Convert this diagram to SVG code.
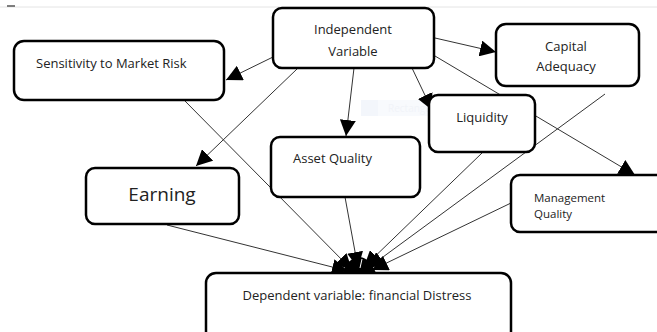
<svg xmlns="http://www.w3.org/2000/svg" width="657" height="332" viewBox="0 0 657 332">
<style>
.box{fill:#fff;stroke:#000;stroke-width:2.5}
.t{font-family:"Open Sans","Noto Sans","Liberation Sans",sans-serif;fill:#222;font-size:13px}
.c{stroke:#333;stroke-width:1;fill:none}
.a{marker-end:url(#ah)}
</style>
<defs>
<marker id="ah" viewBox="0 0 10 10" refX="10" refY="5" markerWidth="16" markerHeight="16" markerUnits="userSpaceOnUse" orient="auto">
<path d="M0,0 L10,5 L0,10 z" fill="#000"/>
</marker>
</defs>
<rect width="657" height="332" fill="#fff"/>
<line x1="0" y1="7" x2="657" y2="7" stroke="#e4e4e4" stroke-width="1"/>
<line x1="7" y1="6" x2="15" y2="6" stroke="#555" stroke-width="1.5"/>
<g id="snip" opacity="0.4">
<rect x="361" y="100" width="95" height="16" fill="#eef3fb"/>
<rect x="361" y="100" width="17" height="16" fill="#e2eaf7"/>
<text x="388" y="112" class="t" style="fill:#dde4f0;font-size:10px">Rectangular Snip</text>
</g>
<g id="connectors">
<line class="c a" x1="273" y1="57" x2="226" y2="80"/>
<line class="c a" x1="297" y1="69" x2="196" y2="166"/>
<line class="c a" x1="354" y1="68" x2="346" y2="136"/>
<line class="c a" x1="412" y1="68" x2="432" y2="110"/>
<line class="c a" x1="435" y1="38" x2="496" y2="52"/>
<line class="c a" x1="435" y1="56" x2="635" y2="175"/>
<line class="c a" x1="184" y1="100" x2="352" y2="270"/>
<line class="c a" x1="167" y1="225" x2="348" y2="271"/>
<line class="c a" x1="345" y1="197" x2="358" y2="268"/>
<line class="c a" x1="482" y1="153" x2="364" y2="267"/>
<line class="c a" x1="605" y1="94" x2="368" y2="268"/>
<line class="c a" x1="511" y1="203" x2="372" y2="270"/>
<path d="M343,273 L346,265 Q352,257 360,257 Q370,258 376,273 Z" fill="#000"/>
<line x1="362" y1="259" x2="360" y2="268" stroke="#fff" stroke-width="1"/>
</g>
<g id="independent">
<rect class="box" x="273" y="8" width="161" height="60" rx="9"/>
<text class="t" x="353" y="34" text-anchor="middle">Independent</text>
<text class="t" x="353" y="56" text-anchor="middle">Variable</text>
</g>
<g id="sensitivity">
<rect class="box" x="14" y="41" width="210" height="59" rx="10"/>
<text class="t" x="36" y="68">Sensitivity to Market Risk</text>
</g>
<g id="capital">
<rect class="box" x="496" y="24" width="143" height="62" rx="10"/>
<text class="t" x="566" y="51" text-anchor="middle">Capital</text>
<text class="t" x="566" y="71" text-anchor="middle">Adequacy</text>
</g>
<g id="liquidity">
<rect class="box" x="429" y="95" width="106" height="57" rx="9"/>
<text class="t" x="482" y="122" text-anchor="middle">Liquidity</text>
</g>
<g id="asset">
<rect class="box" x="271" y="137" width="149" height="60" rx="9"/>
<text class="t" x="293" y="163">Asset Quality</text>
</g>
<g id="earning">
<rect class="box" x="86" y="168" width="153" height="56" rx="9"/>
<text class="t" x="162" y="201" text-anchor="middle" style="font-size:19px">Earning</text>
</g>
<g id="management">
<rect class="box" x="511" y="175" width="160" height="57" rx="9"/>
<text class="t" x="534" y="202" style="font-size:11.5px">Management</text>
<text class="t" x="534" y="218" style="font-size:11.5px">Quality</text>
</g>
<g id="dependent">
<rect class="box" x="206" y="273" width="305" height="72" rx="10"/>
<text class="t" x="357" y="300" text-anchor="middle">Dependent variable: financial Distress</text>
</g>
</svg>
